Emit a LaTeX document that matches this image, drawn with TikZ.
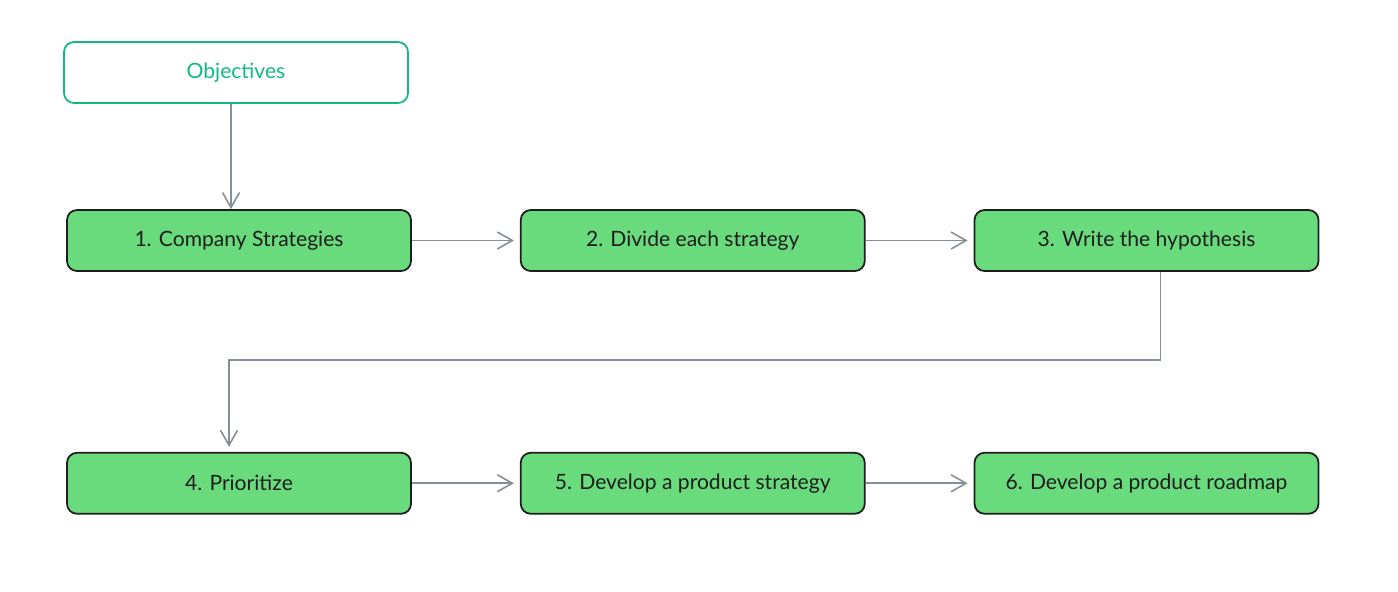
\documentclass[tikz,border=0pt]{standalone}
\usepackage{fontspec}
\setmainfont{Lato}
\usetikzlibrary{calc}
\usetikzlibrary{positioning}
\usetikzlibrary{arrows.meta}
\definecolor{stepgreen}{HTML}{69DB7C}
\definecolor{objgreen}{HTML}{12B886}
\definecolor{linegray}{HTML}{868E96}
\definecolor{inkblack}{HTML}{1E1E1E}

\begin{document}
\begin{tikzpicture}[->, >={Straight Barb[length=3mm,width=3.4mm]}, draw=linegray, line width=0.9pt, node distance=2.16cm, font=\fontsize{12}{14}\selectfont]
\tikzstyle{stepbox}=[draw=inkblack, fill=stepgreen, text=inkblack, rectangle, rounded corners=2mm, minimum width=6.88cm, minimum height=1.22cm, inner sep=0pt, line width=1pt]
\tikzstyle{goal}=[stepbox, draw=objgreen, fill=white, text=objgreen]

\useasboundingbox (0,0) rectangle (27.96,-11.82);

\node[goal] (obj) at (4.72,-1.45) {Objectives};
\node[stepbox] (s1) at (4.78,-4.81) {1. Company Strategies};
\node[stepbox, right=of s1] (s2) {2. Divide each strategy};
\node[stepbox, right=of s2] (s3) {3. Write the hypothesis};

\node[stepbox, below=3.6cm of s1] (s4) {4. Prioritize};
\node[stepbox, right=of s4] (s5) {5. Develop a product strategy};
\node[stepbox, right=of s5] (s6) {6. Develop a product roadmap};

\draw ([xshift=-1mm]obj.south) -- ([xshift=-1mm]obj.south |- s1.north);
\draw[shorten >=1.2mm] (s1) -- (s2);
\draw[shorten >=1.2mm] (s2) -- (s3);
\draw[shorten >=1mm] ([xshift=2.8mm]s3.south) -- ++(0,-1.76) -| ([xshift=-2mm]s4.north);
\draw[shorten >=1.2mm] (s4) -- (s5);
\draw[shorten >=1.2mm] (s5) -- (s6);
\end{tikzpicture}
\end{document}
